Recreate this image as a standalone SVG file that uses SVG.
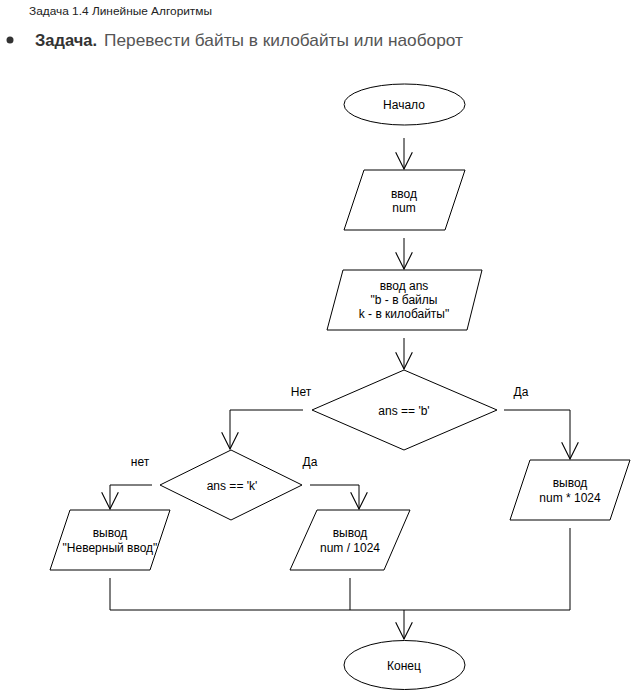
<svg xmlns="http://www.w3.org/2000/svg" width="631" height="691" viewBox="0 0 631 691">
<style>
.shape{fill:#ffffff;stroke:#000000;stroke-width:1}
.t{font-family:"Liberation Sans",Arial,sans-serif;font-size:12px;fill:#000000;text-anchor:middle}
.conn{fill:none;stroke:#000000;stroke-width:1}
</style>
<defs>
<marker id="open" markerUnits="userSpaceOnUse" markerWidth="20" markerHeight="20" viewBox="-16 -9 18 18" refX="0" refY="0" orient="auto">
<path d="M -15 -7.5 L 0 0 L -15 7.5" fill="none" stroke="#000000" stroke-width="1"/>
</marker>
</defs>
<rect width="631" height="691" fill="#ffffff"/>
<g id="header">
<text x="29" y="15" font-family="'Liberation Sans',Arial,sans-serif" font-size="11" fill="#222222" textLength="183" lengthAdjust="spacingAndGlyphs">Задача 1.4 Линейные Алгоритмы</text>
<circle cx="10" cy="40" r="3.5" fill="#333333"/>
<text x="35" y="46" font-family="'Liberation Sans',Arial,sans-serif" font-size="17" font-weight="bold" fill="#333333" textLength="62" lengthAdjust="spacingAndGlyphs">Задача.</text>
<text x="104" y="46" font-family="'Liberation Sans',Arial,sans-serif" font-size="17" fill="#555555" textLength="359" lengthAdjust="spacingAndGlyphs">Перевести байты в килобайты или наоборот</text>
</g>
<g id="connectors">
<path class="conn" d="M404 138 L404 169" marker-end="url(#open)"/>
<path class="conn" d="M404 238 L404 269" marker-end="url(#open)"/>
<path class="conn" d="M404 338 L404 369" marker-end="url(#open)"/>
<path class="conn" d="M303 410 L230 410 L230 449" marker-end="url(#open)"/>
<path class="conn" d="M504 410 L570 410 L570 459" marker-end="url(#open)"/>
<path class="conn" d="M152 485 L110 485 L110 509" marker-end="url(#open)"/>
<path class="conn" d="M310 485 L359 485 L359 509" marker-end="url(#open)"/>
<path class="conn" d="M110 578 L110 610 L570 610 L570 528"/>
<path class="conn" d="M350 578 L350 610"/>
<path class="conn" d="M404 610 L404 639" marker-end="url(#open)"/>
<text class="t" x="301" y="396">Нет</text>
<text class="t" x="521" y="396">Да</text>
<text class="t" x="140" y="466">нет</text>
<text class="t" x="310" y="466">Да</text>
</g>
<g id="start">
<ellipse class="shape" cx="404.5" cy="104.5" rx="60.5" ry="20.5"/>
<text class="t" x="404" y="109">Начало</text>
</g>
<g id="input-num">
<polygon class="shape" points="364,170 465,170 445,230 344,230"/>
<text class="t" x="404" y="198">ввод</text>
<text class="t" x="404" y="212">num</text>
</g>
<g id="input-ans">
<polygon class="shape" points="343,270 482,270 467,330 327,330"/>
<text class="t" x="404" y="290">ввод ans</text>
<text class="t" x="404" y="304">"b - в байлы</text>
<text class="t" x="404" y="318">k - в килобайты"</text>
</g>
<g id="decision-b">
<polygon class="shape" points="404,370 497,410 404,450 312,410"/>
<text class="t" x="404" y="415">ans == 'b'</text>
</g>
<g id="decision-k">
<polygon class="shape" points="231,450 302,485 231,520 160,485"/>
<text class="t" x="232" y="490">ans == 'k'</text>
</g>
<g id="output-mul">
<polygon class="shape" points="530,460 630,460 610,520 510,520"/>
<text class="t" x="570" y="487">вывод</text>
<text class="t" x="570" y="502">num * 1024</text>
</g>
<g id="output-error">
<polygon class="shape" points="70,510 170,510 150,570 50,570"/>
<text class="t" x="110" y="537">вывод</text>
<text class="t" x="110" y="552">"Неверный ввод"</text>
</g>
<g id="output-div">
<polygon class="shape" points="317,510 410,510 384,570 290,570"/>
<text class="t" x="350" y="537">вывод</text>
<text class="t" x="350" y="552">num / 1024</text>
</g>
<g id="end">
<ellipse class="shape" cx="404.5" cy="665" rx="60.5" ry="24.5"/>
<text class="t" x="404" y="670">Конец</text>
</g>
</svg>
